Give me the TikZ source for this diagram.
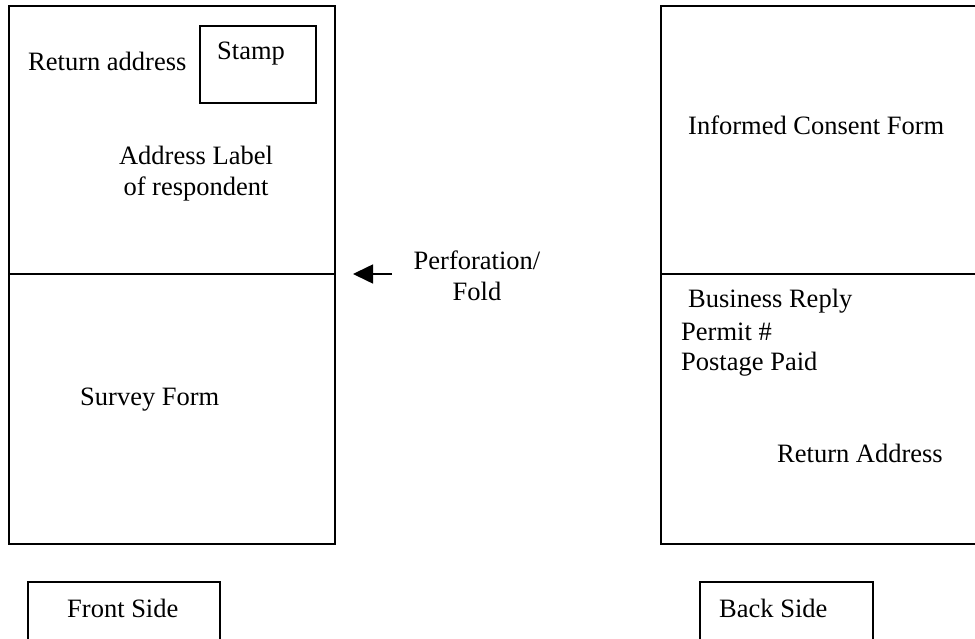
\documentclass[tikz,border=0pt]{standalone}
\usepackage{fontspec}
\setmainfont{Liberation Serif}
\usetikzlibrary{arrows.meta}
\begin{document}
\begin{tikzpicture}[x=1pt,y=-1pt,
  box/.style={draw, line width=1.6pt, inner sep=0pt, anchor=north west},
  txt/.style={inner sep=0pt, anchor=base west, font=\fontsize{26.5}{31}\selectfont},
  arr/.style={line width=1.6pt, -{Triangle[length=20pt,width=19pt]}}]
\useasboundingbox (0,0) rectangle (975,639);
\clip (0,0) rectangle (975,639);
% front side
\node[box, minimum width=326pt, minimum height=538pt] (front) at (8,5) {};
\draw[line width=1.6pt] (front.north west |- 0,274) coordinate (fl) -- (front.north east |- 0,274) coordinate (fr);
\node[box, minimum width=116pt, minimum height=77pt] (stamp) at (199,25) {};
\node[txt] (stamptxt) at (217,60) {Stamp};
\node[txt] (retaddr) at (28,71) {Return address};
\node[txt, anchor=base, align=center] (label) at (196,196) {Address Label\\of respondent};
\node[txt] (survey) at (80,405) {Survey Form};
% perforation
\node[txt, anchor=base, align=center] (perf) at (477,300) {Perforation/\\Fold};
\coordinate (atail) at (392,274);
\coordinate (ahead) at (353,274);
\draw[arr] (atail) -- (ahead);
% back side
\node[box, minimum width=340pt, minimum height=538pt] (back) at (660,5) {};
\draw[line width=1.6pt] (back.north west |- 0,274) coordinate (bl) -- (back.north east |- 0,274) coordinate (br);
\node[txt] (consent) at (688,135) {Informed Consent Form};
\node[txt] (business) at (688,308) {Business Reply};
\node[txt] (permit) at (681,340) {Permit \#};
\node[txt] (postage) at (681,370) {Postage Paid};
\node[txt] (backret) at (777,462) {Return Address};
% captions
\node[box, minimum width=192pt, minimum height=80pt] (frontcap) at (27,581) {};
\node[txt] (fronttxt) at (67,617) {Front Side};
\node[box, minimum width=173pt, minimum height=80pt] (backcap) at (699,581) {};
\node[txt] (backtxt) at (719,617) {Back Side};
\end{tikzpicture}
\end{document}
